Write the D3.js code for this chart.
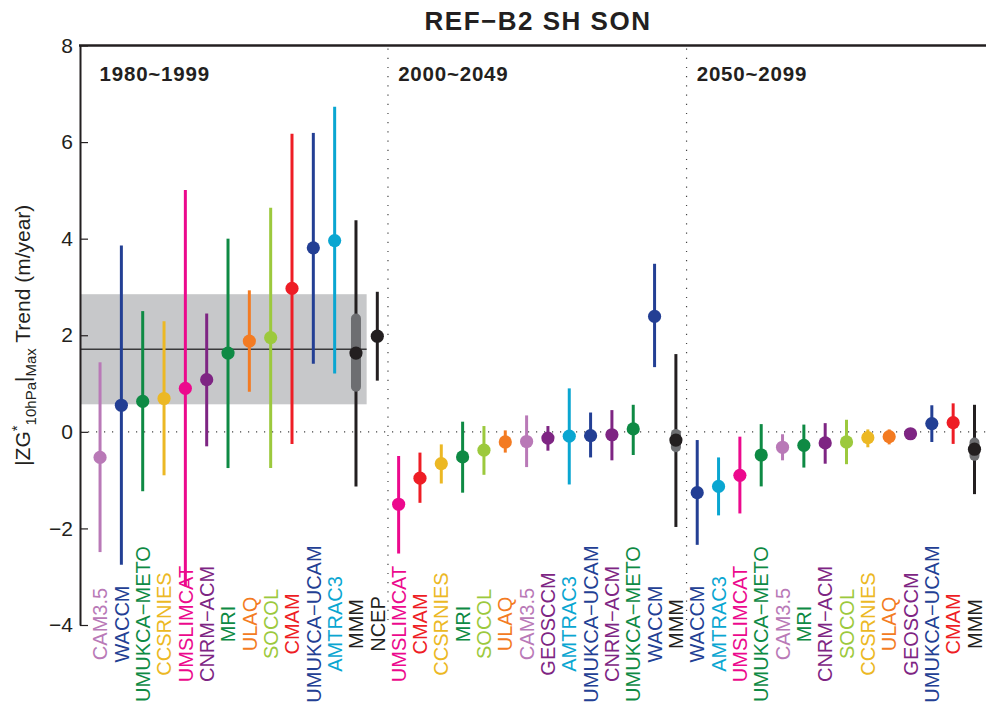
<!DOCTYPE html>
<html>
<head>
<meta charset="utf-8">
<script src="https://cdn.jsdelivr.net/npm/d3@7"></script>
<style>
  html, body { margin: 0; padding: 0; background: #fff; }
  svg text { font-family: "Liberation Sans", Arial, Helvetica, sans-serif; }
</style>
</head>
<body>
<svg id="chart" width="987" height="704"></svg>
<script>
// ---- data: SH SON trends of |ZG*10hPa|Max (m/year) with ranges ----
const chartTitle = "REF\u2212B2 SH SON";
const periodLabels = ["1980~1999", "2000~2049", "2050~2099"];

const p1Models = ["CAM3.5", "WACCM", "UMUKCA\u2212METO", "CCSRNIES", "UMSLIMCAT", "CNRM\u2212ACM", "MRI", "ULAQ", "SOCOL", "CMAM", "UMUKCA\u2212UCAM", "AMTRAC3", "MMM", "NCEP"];
const p1Trend  = [-0.53, 0.55, 0.63, 0.69, 0.90, 1.08, 1.63, 1.88, 1.95, 2.97, 3.81, 3.96, 1.63, 1.98];
const p1Low    = [-2.49, -2.75, -1.23, -0.90, -3.20, -0.30, -0.75, 0.83, -0.75, -0.25, 1.41, 1.21, -1.13, 1.06];
const p1High   = [1.44, 3.86, 2.50, 2.29, 5.01, 2.45, 4.00, 2.93, 4.64, 6.17, 6.19, 6.73, 4.38, 2.90];

const p2Models = ["UMSLIMCAT", "CMAM", "CCSRNIES", "MRI", "SOCOL", "ULAQ", "CAM3.5", "GEOSCCM", "AMTRAC3", "UMUKCA\u2212UCAM", "CNRM\u2212ACM", "UMUKCA\u2212METO", "WACCM", "MMM"];
const p2Trend  = [-1.50, -0.96, -0.66, -0.52, -0.38, -0.21, -0.20, -0.13, -0.09, -0.08, -0.06, 0.06, 2.39, -0.17];
const p2Low    = [-2.52, -1.47, -1.07, -1.26, -0.89, -0.43, -0.73, -0.39, -1.09, -0.53, -0.59, -0.48, 1.34, -1.97];
const p2High   = [-0.50, -0.43, -0.26, 0.21, 0.12, 0.03, 0.34, 0.12, 0.90, 0.40, 0.45, 0.56, 3.48, 1.61];

const p3Models = ["WACCM", "AMTRAC3", "UMSLIMCAT", "UMUKCA\u2212METO", "CAM3.5", "MRI", "CNRM\u2212ACM", "SOCOL", "CCSRNIES", "ULAQ", "GEOSCCM", "UMUKCA\u2212UCAM", "CMAM", "MMM"];
const p3Trend  = [-1.26, -1.13, -0.90, -0.48, -0.32, -0.28, -0.23, -0.21, -0.12, -0.10, -0.04, 0.17, 0.19, -0.36];
const p3Low    = [-2.34, -1.73, -1.69, -1.13, -0.59, -0.74, -0.66, -0.67, -0.32, -0.26, -0.10, -0.21, -0.25, -1.29];
const p3High   = [-0.17, -0.53, -0.10, 0.16, -0.05, 0.15, 0.18, 0.25, 0.05, 0.05, 0.02, 0.55, 0.59, 0.56];

// multi-model mean spread, per period [low, high]
const mmmSpreadLow  = [0.85, -0.40, -0.58];
const mmmSpreadHigh = [2.43, 0.04, -0.14];

// reference (NCEP) mean and its range for the first period
const refMean = 1.71;
const refLow = 0.57;
const refHigh = 2.85;

const yTicks = [-4, -2, 0, 2, 4, 6, 8];

// ---- styles ----
const modelColor = {
  "CAM3.5": "#b979b7",
  "WACCM": "#233f94",
  "UMUKCA\u2212METO": "#0e8a44",
  "CCSRNIES": "#ecb824",
  "UMSLIMCAT": "#ec098d",
  "CNRM\u2212ACM": "#7e2583",
  "MRI": "#0e8a44",
  "ULAQ": "#f37b22",
  "SOCOL": "#9cc93d",
  "CMAM": "#ee1d25",
  "UMUKCA\u2212UCAM": "#233f94",
  "AMTRAC3": "#0aa6d1",
  "GEOSCCM": "#7e2583",
  "MMM": "#231f20",
  "NCEP": "#231f20"
};

const plotLeft = 80, plotRight = 986, plotTop = 45.5, plotBottom = 625;

const svg = d3.select("#chart");

// x is a running slot index across all three periods (1..42)
const x = d3.scaleLinear().domain([0.06, 42.54]).range([plotLeft, plotRight]);
const y = d3.scaleLinear().domain([-4, 8]).range([plotBottom, plotTop]);

const panels = [
  { models: p1Models, trend: p1Trend, low: p1Low, high: p1High },
  { models: p2Models, trend: p2Trend, low: p2Low, high: p2High },
  { models: p3Models, trend: p3Trend, low: p3Low, high: p3High }
];

let slot = 0;
const rows = [];
panels.forEach((p, pi) => {
  p.models.forEach((m, i) => {
    slot += 1;
    rows.push({ panel: pi, model: m, pos: slot, v: p.trend[i], lo: p.low[i], hi: p.high[i] });
  });
});
const n1 = p1Models.length, n2 = p2Models.length;

// reference band and mean line behind period 1
svg.append("rect")
  .attr("x", plotLeft)
  .attr("y", y(refHigh))
  .attr("width", x(n1 - 0.5) - plotLeft)
  .attr("height", y(refLow) - y(refHigh))
  .attr("fill", "#c7c8ca");
svg.append("line")
  .attr("x1", plotLeft).attr("x2", x(n1 - 0.5))
  .attr("y1", y(refMean)).attr("y2", y(refMean))
  .attr("stroke", "#3a3a3c").attr("stroke-width", 1.3);

// zero line and period separators (dotted)
svg.append("line")
  .attr("x1", plotLeft).attr("x2", plotRight)
  .attr("y1", y(0)).attr("y2", y(0))
  .attr("stroke", "#444").attr("stroke-width", 1.2)
  .attr("stroke-dasharray", "1.2,6.8");
[n1 + 0.5, n1 + n2 + 0.5].forEach(s => {
  svg.append("line")
    .attr("x1", x(s)).attr("x2", x(s))
    .attr("y1", plotTop + 3).attr("y2", plotBottom)
    .attr("stroke", "#444").attr("stroke-width", 1.2)
    .attr("stroke-dasharray", "1.2,8");
});

// range bars
svg.append("g").selectAll("line")
  .data(rows).join("line")
  .attr("x1", d => x(d.pos)).attr("x2", d => x(d.pos))
  .attr("y1", d => y(d.hi)).attr("y2", d => y(d.lo))
  .attr("stroke", d => modelColor[d.model])
  .attr("stroke-width", 3);

// multi-model spread bars (thick grey)
const mmmRows = rows.filter(d => d.model === "MMM").map(d => ({
  pos: d.pos, lo: mmmSpreadLow[d.panel], hi: mmmSpreadHigh[d.panel]
}));
svg.append("g").selectAll("line")
  .data(mmmRows).join("line")
  .attr("x1", d => x(d.pos)).attr("x2", d => x(d.pos))
  .attr("y1", d => y(d.hi) + 4).attr("y2", d => y(d.lo) - 4)
  .attr("stroke", "#6d6e71")
  .attr("stroke-width", 10)
  .attr("stroke-linecap", "round");

// trend markers
svg.append("g").selectAll("circle")
  .data(rows).join("circle")
  .attr("cx", d => x(d.pos)).attr("cy", d => y(d.v))
  .attr("r", 6.6)
  .attr("fill", d => modelColor[d.model]);

// y axis with inward ticks
const yAxis = d3.axisLeft(y).tickValues(yTicks).tickSize(-8).tickSizeOuter(0).tickPadding(7);
const gy = svg.append("g").attr("transform", `translate(${plotLeft},0)`).call(yAxis);
gy.select(".domain").attr("stroke", "#231f20").attr("stroke-width", 2);
gy.selectAll(".tick line").attr("stroke", "#231f20").attr("stroke-width", 1.2);
gy.selectAll(".tick text").attr("font-size", 21).attr("fill", "#231f20");

// top frame line
svg.append("line")
  .attr("x1", plotLeft - 1).attr("x2", plotRight)
  .attr("y1", plotTop).attr("y2", plotTop)
  .attr("stroke", "#231f20").attr("stroke-width", 2.5);

// model labels, rotated, centred under each slot
svg.append("g").selectAll("text")
  .data(rows).join("text")
  .attr("transform", d => `translate(${x(d.pos)},${plotBottom - 1}) rotate(-90)`)
  .attr("text-anchor", "middle")
  .attr("dy", "0.36em")
  .attr("font-size", 20)
  .attr("fill", d => modelColor[d.model])
  .text(d => d.model);

// period labels
const periodStarts = [1, n1 + 1, n1 + n2 + 1];
periodLabels.forEach((t, i) => {
  svg.append("text")
    .attr("x", x(periodStarts[i]) - 0.5)
    .attr("y", 81)
    .attr("font-size", 20.5)
    .attr("font-weight", "bold")
    .attr("letter-spacing", 0.8)
    .attr("fill", "#231f20")
    .text(t);
});

// title
svg.append("text")
  .attr("x", 538).attr("y", 30)
  .attr("text-anchor", "middle")
  .attr("font-size", 26)
  .attr("font-weight", "bold")
  .attr("letter-spacing", 1.5)
  .attr("fill", "#231f20")
  .text(chartTitle);

// y axis title with sub/superscripts
const yt = svg.append("text")
  .attr("transform", `translate(30,${(plotTop + plotBottom) / 2}) rotate(-90)`)
  .attr("text-anchor", "middle")
  .attr("font-size", 21)
  .attr("fill", "#231f20");
yt.append("tspan").text("|ZG");
yt.append("tspan").attr("font-size", 15).attr("dy", -8).text("*");
yt.append("tspan").attr("font-size", 15).attr("dy", 14).text("10hPa");
yt.append("tspan").attr("dy", -6).text("|");
yt.append("tspan").attr("font-size", 15).attr("dy", 6).text("Max");
yt.append("tspan").attr("dy", -6).text(" Trend (m/year)");
</script>
</body>
</html>
